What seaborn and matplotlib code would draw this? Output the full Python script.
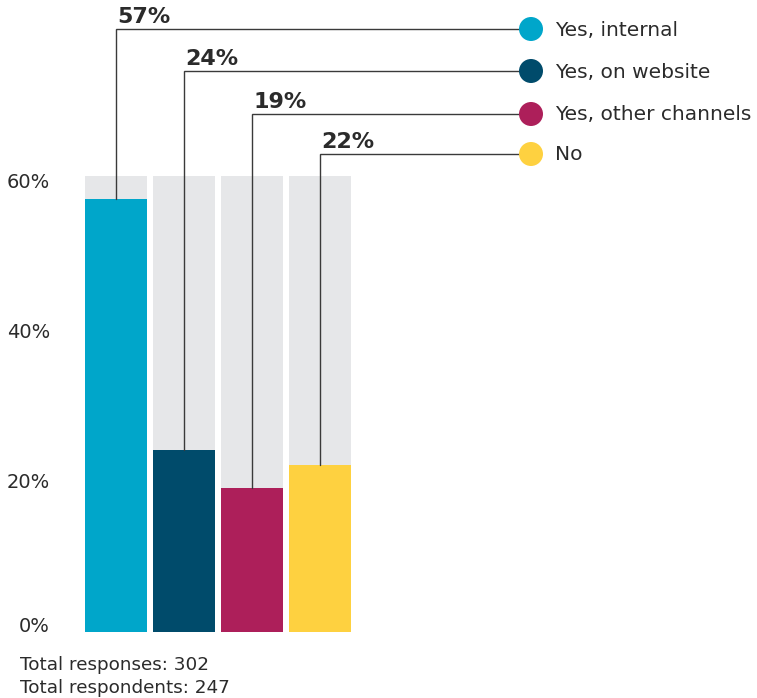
import matplotlib
matplotlib.use("Agg")
import matplotlib.pyplot as plt
import matplotlib.transforms as mtransforms
import seaborn as sns
import pandas as pd

# Survey answers and shares (percent)
categories = ["Yes, internal", "Yes, on website", "Yes, other channels", "No"]
values = [57, 24, 19, 22]
value_labels = ["57%", "24%", "19%", "22%"]
colors = ["#00a6ca", "#004b6b", "#ad1f5a", "#fed140"]
y_ticks = [0, 20, 40, 60]
y_tick_labels = ["0%", "20%", "40%", "60%"]
y_max = 60
footer_lines = ["Total responses: 302", "Total respondents: 247"]

W, H = 757, 698
DPI = 100
TEXT = "#2b2b2b"
GREY_BG = "#e6e7e9"
LINE = "#3a3a3a"

sns.set_theme(style="white")
plt.rcParams["font.family"] = ["DejaVu Sans"]

fig = plt.figure(figsize=(W / DPI, H / DPI), dpi=DPI)

# Bar axes placed in pixel terms: x from 82..354, y from 632 (0%) up to 176 (60%)
ax_left, ax_right = 82, 354
ax_bottom_px, ax_top_px = 632, 176
ax = fig.add_axes([ax_left / W, (H - ax_bottom_px) / H,
                   (ax_right - ax_left) / W, (ax_bottom_px - ax_top_px) / H])

df = pd.DataFrame({"category": categories, "value": values})
bg = pd.DataFrame({"category": categories, "value": [y_max] * len(categories)})

bar_width = 62 / 68
sns.barplot(data=bg, x="category", y="value", color=GREY_BG, saturation=1,
            width=bar_width, linewidth=0, edgecolor="none", ax=ax)
sns.barplot(data=df, x="category", y="value", hue="category", palette=colors,
            saturation=1, width=bar_width, linewidth=0, edgecolor="none",
            legend=False, ax=ax)

ax.set_xlim(-0.5, len(categories) - 0.5)
ax.set_ylim(0, y_max)
ax.set_xticks([])
ax.set_yticks(y_ticks)
ax.set_yticklabels(y_tick_labels, fontsize=14, color=TEXT)
ax.tick_params(axis="y", length=0, pad=23)
# keep the end labels inside the plotting band, nudge the middle ones slightly
tick_labels = ax.get_yticklabels()
tick_labels[0].set_va("baseline")
tick_labels[-1].set_va("top")
for t in tick_labels[1:-1]:
    t.set_va("center")
shift_down_px = [0, 2, 5, -3]
for t, dy in zip(tick_labels, shift_down_px):
    off = mtransforms.ScaledTranslation(0, -dy / DPI, fig.dpi_scale_trans)
    t.set_transform(t.get_transform() + off)
ax.set_xlabel("")
ax.set_ylabel("")
for s in ax.spines.values():
    s.set_visible(False)

# Overlay in pixel coordinates for leader lines, value labels and legend
ov = fig.add_axes([0, 0, 1, 1], zorder=5)
ov.set_xlim(0, W)
ov.set_ylim(H, 0)
ov.axis("off")
ov.patch.set_alpha(0)

legend_x = 531
legend_ys = [29, 71, 114, 154]
circle_r = 12

to_ov = ov.transData.inverted()
for i, (val, lab, col, cat, ly) in enumerate(zip(values, value_labels, colors,
                                                   categories, legend_ys)):
    bx, by = to_ov.transform(ax.transData.transform((i, val)))
    ov.plot([bx, bx, legend_x - circle_r], [by, ly, ly], color=LINE, lw=1,
            solid_joinstyle="miter")
    ov.text(bx + 1, ly - 2, lab, fontsize=16, fontweight="bold", color=TEXT,
            ha="left", va="bottom")
    ov.scatter([legend_x], [ly], s=(2 * circle_r * 72 / DPI) ** 2, color=col,
               edgecolors="none", zorder=6)
    ov.text(legend_x + 24, ly + 1, cat, fontsize=14.5, color=TEXT, ha="left",
            va="center")

for j, line in enumerate(footer_lines):
    ov.text(20, 665 + j * 23, line, fontsize=13.2, color=TEXT, ha="left",
            va="center")

fig.savefig("out.png", dpi=DPI, facecolor="white")
